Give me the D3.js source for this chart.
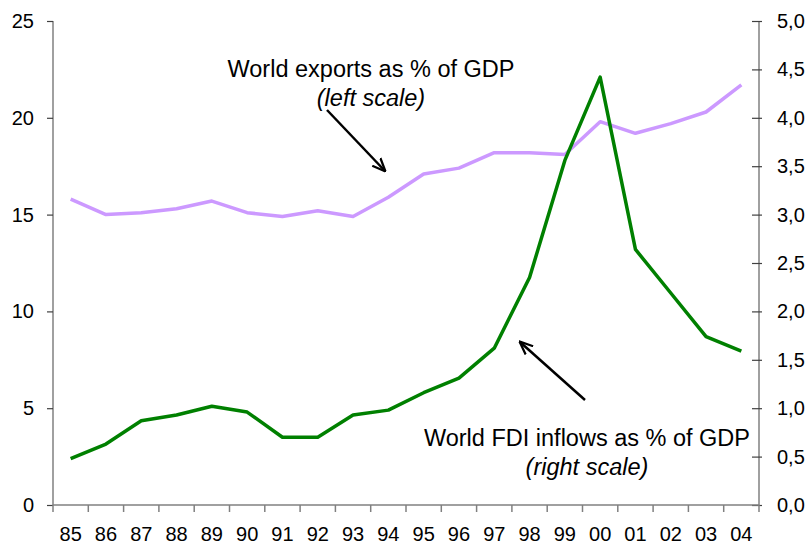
<!DOCTYPE html>
<html>
<head>
<meta charset="utf-8">
<script src="https://d3js.org/d3.v7.min.js"></script>
<style type="text/css">
  body { margin: 0; background: #fff; }
  svg text { font-family: "Liberation Sans", Arial, sans-serif; fill: #000; }
</style>
</head>
<body>
<svg id="chart" width="810" height="549"></svg>
<script>

const years = ['85', '86', '87', '88', '89', '90', '91', '92', '93', '94',
  '95', '96', '97', '98', '99', '00', '01', '02', '03', '04'];

// world exports as % of GDP (left scale)
const exportsPct = [15.8, 15.0, 15.1, 15.3, 15.7, 15.1, 14.9, 15.2, 14.9, 15.9,
  17.1, 17.4, 18.2, 18.2, 18.1, 19.8, 19.2, 19.7, 20.3, 21.7];

// world FDI inflows as % of GDP (right scale)
const fdiPct = [0.48, 0.63, 0.87, 0.93, 1.02, 0.96, 0.70, 0.70, 0.93, 0.98,
  1.16, 1.31, 1.62, 2.35, 3.56, 4.42, 2.64, 2.19, 1.74, 1.59];

const leftTicks = [0, 5, 10, 15, 20, 25];
const rightTicks = [0, 0.5, 1, 1.5, 2, 2.5, 3, 3.5, 4, 4.5, 5];

const chart = d3.select('#chart');
const margin = { top: 21, right: 51, bottom: 44, left: 53 };
const width = 810 - margin.left - margin.right;
const height = 549 - margin.top - margin.bottom;
const g = chart.append('g')
  .attr('transform', `translate(${margin.left} ${margin.top})`);

const x = d3.scaleBand().domain(years).range([0, width]);
const yLeft = d3.scaleLinear().domain([0, 25]).range([height, 0]);
const yRight = d3.scaleLinear().domain([0, 5]).range([height, 0]);

// left axis
const axL = g.append('g')
  .call(d3.axisLeft(yLeft).tickValues(leftTicks).tickSize(6).tickPadding(13));
// right axis, ticks cross the line
const axR = g.append('g')
  .attr('transform', `translate(${width} 0)`)
  .call(d3.axisRight(yRight).tickValues(rightTicks).tickSize(3)
    .tickPadding(15).tickFormat(d => d3.format('.1f')(d).replace('.', ',')));
axR.selectAll('.tick line').attr('x1', -7);
// bottom axis: ticks sit between the years
const axB = g.append('g')
  .attr('transform', `translate(0 ${height})`)
  .call(d3.axisBottom(x).tickSize(0).tickPadding(22));
axB.selectAll('.tick-sep')
  .data(d3.range(years.length + 1))
  .enter().append('line')
  .attr('x1', i => i * x.step())
  .attr('x2', i => i * x.step())
  .attr('y1', 0).attr('y2', 7)
  .attr('stroke', '#808080').attr('stroke-width', 1.5);

[axL, axR, axB].forEach(a => {
  a.select('.domain').attr('stroke', '#808080').attr('stroke-width', 1.5);
  a.selectAll('.tick line').attr('stroke', '#404040').attr('stroke-width', 1.2);
  a.selectAll('text').attr('font-size', 20).attr('fill', '#000')
    .style('font-family', '"Liberation Sans", Arial, sans-serif');
});
axB.select('.domain').attr('d', `M0,0H${width}`);
axL.select('.domain').attr('d', `M0,0V${height}`);
axR.select('.domain').attr('d', `M0,0V${height}`);

const cx = d => x(d) + x.bandwidth() / 2;

const lineL = d3.line().x((d, i) => cx(years[i])).y(d => yLeft(d));
const lineR = d3.line().x((d, i) => cx(years[i])).y(d => yRight(d));

g.append('path')
  .datum(exportsPct)
  .attr('fill', 'none')
  .attr('stroke', '#cc99ff')
  .attr('stroke-width', 3.5)
  .attr('stroke-linejoin', 'round')
  .attr('d', lineL);

g.append('path')
  .datum(fdiPct)
  .attr('fill', 'none')
  .attr('stroke', '#008000')
  .attr('stroke-width', 3.5)
  .attr('stroke-linejoin', 'round')
  .attr('d', lineR);

// annotations
chart.append('defs').append('marker')
  .attr('id', 'head')
  .attr('viewBox', '0 0 10 10')
  .attr('refX', 9).attr('refY', 5)
  .attr('markerWidth', 14).attr('markerHeight', 14)
  .attr('markerUnits', 'userSpaceOnUse')
  .attr('orient', 'auto')
  .append('path')
  .attr('d', 'M0,1 L9.5,5 L0,9')
  .attr('fill', 'none')
  .attr('stroke', '#000')
  .attr('stroke-width', 1.6);

function note(lines, cxp, y0, arrow) {
  lines.forEach((t, i) => {
    chart.append('text')
      .attr('x', cxp).attr('y', y0 + i * 29)
      .attr('text-anchor', 'middle')
      .attr('font-size', 23.5)
      .attr('font-style', i === 1 ? 'italic' : 'normal')
      .text(t);
  });
  chart.append('line')
    .attr('x1', arrow[0]).attr('y1', arrow[1])
    .attr('x2', arrow[2]).attr('y2', arrow[3])
    .attr('stroke', '#000').attr('stroke-width', 2.5)
    .attr('marker-end', 'url(#head)');
}

note(['World exports as % of GDP', '(left scale)'], 371, 77, [327, 110, 385, 171]);
note(['World FDI inflows as % of GDP', '(right scale)'], 587, 446, [585, 400, 520, 342]);

</script>
</body>
</html>
